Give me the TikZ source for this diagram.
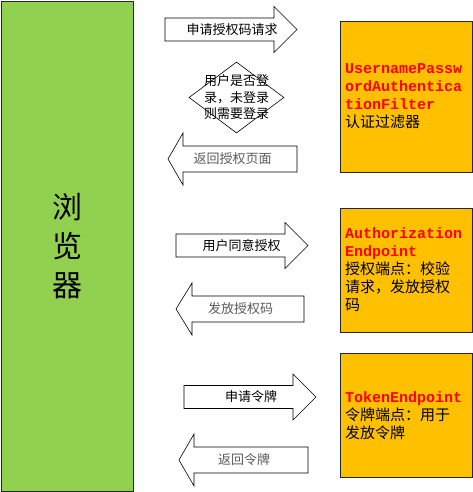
\documentclass[tikz,border=0pt]{standalone}
\usepackage{fontspec}
\setmainfont{Noto Sans CJK SC}
\newfontfamily\codefont{Liberation Mono}
\usetikzlibrary{shapes.geometric}
\definecolor{browsergreen}{HTML}{92D050}
\definecolor{boxorange}{HTML}{FFC000}
\definecolor{backgray}{HTML}{5A5A5A}
\tikzset{
  blockarrow/.style={draw=black, line width=0.6pt, fill=white, line join=miter},
  arrowtext/.style={inner sep=0pt, font=\fontsize{13}{15}\selectfont},
  endpointbox/.style={draw=black!85, line width=0.8pt, fill=boxorange, anchor=north west, inner sep=0pt},
  boxtext/.style={inner sep=0pt, anchor=base west, text width=128pt, align=left, font=\fontsize{15}{18}\selectfont},
  redcode/.style={}
}
\def\arrowR(#1,#2,#3,#4,#5,#6,#7){
  \draw[blockarrow] (#2,#5-11.5) -- (#3,#5-11.5) -- (#3,#5-23) -- (#4,#5) -- (#3,#5+23) -- (#3,#5+11.5) -- (#2,#5+11.5) -- cycle;
  \node[arrowtext] (#1) at (#6,#5) {#7};
}
\def\arrowL(#1,#2,#3,#4,#5,#6,#7){
  \draw[blockarrow] (#2,#5) -- (#3,#5-26) -- (#3,#5-13) -- (#4,#5-13) -- (#4,#5+13) -- (#3,#5+13) -- (#3,#5+26) -- cycle;
  \node[arrowtext, text=backgray] (#1) at (#6,#5) {#7};
}
\def\endpoint(#1,#2,#3,#4,#5){
  \node[endpointbox, minimum width=132, minimum height=#3-#2] (#1) at (340,#2) {};
  \node[boxtext] (#1_txt) at (345,#4) {#5};
}
\newcommand{\redcode}[1]{{\codefont\bfseries\color{red}#1}}

\begin{document}
\begin{tikzpicture}[x=1pt, y=-1pt]
\useasboundingbox (0,0) rectangle (473,492);
\node[draw=black!85, line width=0.8pt, fill=browsergreen, minimum width=132, minimum height=490, inner sep=0pt, align=center, font=\fontsize{30}{39}\selectfont] (browser) at (67,246) {浏\\览\\器};
\arrowR(ask_code,165,274,297,29.5,232,申请授权码请求)
\node[draw, diamond, line width=0.6pt, fill=white, minimum width=95, minimum height=71, inner sep=0pt] (login) at (236.5,97.5) {};
\node[arrowtext, align=center, font=\fontsize{13}{16.5}\selectfont] (login_txt) at (login) {用户是否登\\录，未登录\\则需要登录};
\arrowL(back_page,168,183,297,159,232.5,返回授权页面)
\arrowR(agree,176,285,308,245.5,241.5,用户同意授权)
\arrowL(give_code,176,192,304,309,240.5,发放授权码)
\arrowR(ask_token,184,293,316,397,251,申请令牌)
\arrowL(back_token,179,194,308,460,244,返回令牌)
\endpoint(filter,21,172,73.5,\redcode{UsernamePassw\\ordAuthentica\\tionFilter}\\认证过滤器)
\endpoint(authorize,208,332,238.5,\redcode{Authorization\\Endpoint}\\授权端点：校验\\请求，发放授权\\码)
\endpoint(token,353,477,402.5,\redcode{TokenEndpoint}\\令牌端点：用于\\发放令牌)
\end{tikzpicture}
\end{document}
